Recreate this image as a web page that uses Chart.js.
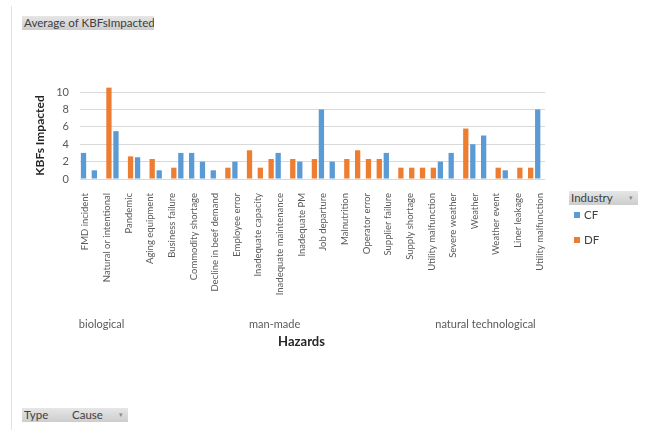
<!DOCTYPE html>
<html>
<head>
<meta charset="utf-8">
<title>Average of KBFsImpacted</title>
<script src="https://cdn.jsdelivr.net/npm/chart.js@4.4.1/dist/chart.umd.min.js"></script>
<style>
  html, body { margin: 0; padding: 0; background: #fff; }
  #wrap { position: relative; width: 649px; height: 430px; overflow: hidden; font-family: Lato, 'Open Sans', sans-serif; }
  #chart { position: absolute; left: 0; top: 0; }
  .frame { position: absolute; left: 11px; top: 6px; width: 1px; height: 424px; background: #e2e2e2; }
  .btn { position: absolute; height: 14px; line-height: 14px; font-size: 11px; color: #404040; background: linear-gradient(#e6e6e6, #cdcdcd); padding: 0 2px; box-sizing: border-box; white-space: nowrap; overflow: hidden; }
  .arrow { position: absolute; right: 5px; top: -1px; font-size: 7px; color: #8a8a8a; }
  .item { position: absolute; font-size: 11.5px; color: #404040; line-height: 12px; }
  .sw { display: inline-block; width: 6px; height: 6px; margin-right: 4px; vertical-align: 1px; }
</style>
</head>
<body>
<div id="wrap">
  <canvas id="chart" width="649" height="430"></canvas>
  <div class="frame"></div>
  <div class="btn" style="left:22px;top:16px;width:132px;font-size:11.6px;">Average of KBFsImpacted</div>
  <div class="btn" style="left:569px;top:191px;width:69px;font-size:11.5px;">Industry<span class="arrow">&#9662;</span></div>
  <div id="legend"></div>
  <div class="btn" style="left:22px;top:408px;width:106px;font-size:11.5px;">Type<span style="position:absolute;left:50px">Cause</span><span class="arrow">&#9662;</span></div>
</div>
<script>
'use strict'

// cause per category; only every other one gets a label on the axis
const causeLabels = [
    'FMD incident', '', 'Natural or intentional', '', 'Pandemic', '',
    'Aging equipment', '', 'Business failure', '', 'Commodity shortage', '',
    'Decline in beef demand', '', 'Employee error', '', 'Inadequate capacity', '',
    'Inadequate maintenance', '', 'Inadequate PM', '', 'Job departure', '',
    'Malnutrition', '', 'Operator error', '', 'Supplier failure', '',
    'Supply shortage', '', 'Utility malfunction', '', 'Severe weather', '',
    'Weather', '', 'Weather event', '', 'Liner leakage', '', 'Utility malfunction'
];

// outer level of the axis (Type) and how many causes each one holds
const typeNames = ['biological', 'man-made', 'natural technological'];
const typeCounts = [4, 28, 11];

const seriesNames = ['CF', 'DF'];
const seriesColors = ['#5B9BD5', '#ED7D31'];

const cfValues = [
    3, 1, null, 5.5,
    null, 2.5, null, 1, null, 3, 3, 2, 1, null, 2, null, null, null, 3, null,
    2, null, 8, 2, null, null, null, null, 3, null, null, null,
    null, 2, 3, null, 4, 5, null, 1, null, null, 8
];
const dfValues = [
    null, null, 10.5, null,
    2.6, null, 2.3, null, 1.3, null, null, null, null, 1.3, null, 3.3, 1.3, 2.3, null, 2.3,
    null, 2.3, null, null, 2.3, 3.3, 2.3, 2.3, null, 1.3, 1.3, 1.3,
    1.3, null, null, 5.8, null, null, 1.3, null, 1.3, 1.3, null
];

const yTicks = [0, 2, 4, 6, 8, 10];

// Type names under the cause labels, plus the axis title
const groupLabels = {
    id: 'groupLabels',
    afterDraw(chart){
        const {ctx, chartArea, scales: {x}} = chart;
        ctx.save();
        ctx.textAlign = 'center';
        ctx.textBaseline = 'middle';
        ctx.font = '11px Lato';
        ctx.fillStyle = '#595959';
        let start = 0;
        typeNames.forEach((name, i) => {
            const end = start + typeCounts[i] - 1;
            const cx = (x.getPixelForValue(start) + x.getPixelForValue(end)) / 2;
            ctx.fillText(name, cx, chartArea.bottom + 145);
            start = end + 1;
        });
        ctx.font = 'bold 13px Lato';
        ctx.fillStyle = '#262626';
        ctx.fillText('Hazards', (chartArea.left + chartArea.right) / 2 - 11, chartArea.bottom + 163);
        ctx.restore();
    }
};

chartIt();

function chartIt(){
    const ctx = document.getElementById('chart').getContext('2d');
    const values = [cfValues, dfValues];

    const myChart = new Chart(ctx, {
        type: 'bar',
        data: {
            labels: causeLabels,
            datasets: seriesNames.map((name, i) => ({
                label: name,
                data: values[i],
                backgroundColor: seriesColors[i],
                borderWidth: 0,
                clip: false,
            }))
        },
        options: {
            responsive: false,
            animation: false,
            categoryPercentage: 0.7,
            barPercentage: 1.4,
            layout: {padding: {left: 29, right: 104, top: 92, bottom: 70}},
            plugins: {
                legend: {display: false},
                tooltip: {enabled: false},
            },
            scales: {
                x: {
                    grid: {display: false},
                    border: {display: false},
                    ticks: {
                        autoSkip: false,
                        minRotation: 90,
                        maxRotation: 90,
                        padding: 6,
                        color: '#595959',
                        font: {family: 'Lato', size: 9.5},
                    },
                    afterFit: s => { s.height = 181; },
                },
                y: {
                    min: yTicks[0],
                    max: yTicks[yTicks.length - 1],
                    afterBuildTicks: s => { s.ticks = yTicks.map(v => ({value: v})); },
                    ticks: {padding: 11, color: '#595959', font: {family: 'Lato', size: 11}},
                    grid: {color: '#d9d9d9', drawTicks: false},
                    border: {display: false},
                    title: {
                        display: true,
                        text: 'KBFs Impacted',
                        color: '#262626',
                        font: {family: 'Lato', size: 12, weight: 'bold'},
                        padding: {top: 4, bottom: 0},
                    },
                    afterFit: s => { s.width = 51; },
                },
            },
        },
        plugins: [groupLabels],
    });

    // legend beside the Industry button
    const legend = document.getElementById('legend');
    myChart.data.datasets.forEach((ds, i) => {
        const item = document.createElement('div');
        item.className = 'item';
        item.style.left = '574px';
        item.style.top = (209 + i * 25) + 'px';
        item.innerHTML = '<span class="sw" style="background:' + ds.backgroundColor + '"></span>' + ds.label;
        legend.appendChild(item);
    });
}
</script>
</body>
</html>
